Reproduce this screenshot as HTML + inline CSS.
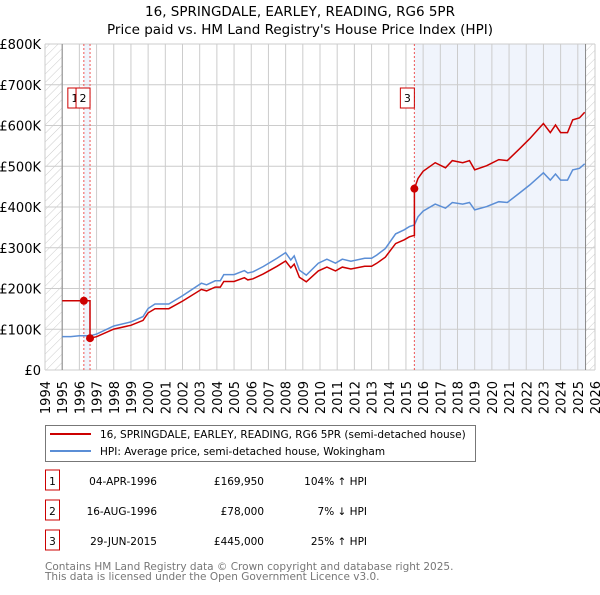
<!DOCTYPE html>
<html><head><meta charset="utf-8"><style>
body{margin:0;background:#fff;font-family:"Liberation Sans","DejaVu Sans",sans-serif;}
svg text{font-family:"DejaVu Sans","Liberation Sans",sans-serif;}
</style></head><body>
<svg id="c" width="600" height="590" xmlns="http://www.w3.org/2000/svg">
<defs><pattern id="hatch" width="6" height="6" patternUnits="userSpaceOnUse" patternTransform="rotate(45)"><line x1="0" y1="0" x2="0" y2="6" stroke="#ccc" stroke-width="1"/></pattern></defs>
<text x="300" y="16" text-anchor="middle" font-size="13.5" fill="#000">16, SPRINGDALE, EARLEY, READING, RG6 5PR</text>
<text x="300" y="34" text-anchor="middle" font-size="13.5" fill="#000">Price paid vs. HM Land Registry's House Price Index (HPI)</text>
<g id="plot"></g>
<g>
<rect x="45.5" y="425.5" width="430" height="36" fill="#fff" stroke="#777"/>
<line x1="50" y1="434" x2="91" y2="434" stroke="#cc0000" stroke-width="2"/>
<text x="100" y="438" font-size="10.5">16, SPRINGDALE, EARLEY, READING, RG6 5PR (semi-detached house)</text>
<line x1="50" y1="451" x2="91" y2="451" stroke="#5b8ed6" stroke-width="2"/>
<text x="100" y="455" font-size="10.5">HPI: Average price, semi-detached house, Wokingham</text>
</g>
<g id="table"></g>
<text x="45" y="570" font-size="10.5" fill="#777">Contains HM Land Registry data © Crown copyright and database right 2025.</text>
<text x="45" y="580" font-size="10.5" fill="#777">This data is licensed under the Open Government Licence v3.0.</text>
</svg>
<script>
const hpiYears=[1995,1995.5,1996,1996.62,1997,1998,1999,1999.7,2000,2000.4,2001.2,2002,2003.1,2003.4,2003.9,2004.2,2004.4,2005,2005.6,2005.8,2006.1,2006.7,2007.5,2008,2008.3,2008.5,2008.8,2009.2,2009.9,2010.4,2010.9,2011.3,2011.8,2012.6,2013,2013.3,2013.8,2014.4,2014.9,2015.2,2015.49,2015.7,2016,2016.7,2017.3,2017.7,2018.3,2018.7,2019,2019.7,2020.4,2020.9,2021.6,2022.2,2023,2023.4,2023.7,2024,2024.4,2024.7,2025.1,2025.4];
const hpiValues=[82,82,84,84,88,108,118,131,151,162,162,182,213,209,219,219,234,234,244,238,241,254,274,288,270,280,245,233,262,272,262,272,267,274,274,282,298,334,344,352,356,376,390,407,397,411,407,411,393,401,413,411,434,454,484,466,481,466,466,491,495,506];
const saleIds=["1","2","3"];
const saleYears=[1996.26,1996.62,2015.49];
const salePrices=[169950,78000,445000];
const saleDates=["04-APR-1996","16-AUG-1996","29-JUN-2015"];
const salePriceLabels=["£169,950","£78,000","£445,000"];
const saleHpiLabels=["104% ↑ HPI","7% ↓ HPI","25% ↑ HPI"];
const yTicks=[0,100,200,300,400,500,600,700,800];
const yTickLabels=["£0","£100K","£200K","£300K","£400K","£500K","£600K","£700K","£800K"];
const xTicks=[1994,1995,1996,1997,1998,1999,2000,2001,2002,2003,2004,2005,2006,2007,2008,2009,2010,2011,2012,2013,2014,2015,2016,2017,2018,2019,2020,2021,2022,2023,2024,2025,2026];

const NS="http://www.w3.org/2000/svg";
const L=45,R=595,T=44,B=370,X0=1994,X1=2026,YMAX=800;
const xs=y=>L+(y-X0)/(X1-X0)*(R-L);
const ys=v=>B-v/YMAX*(B-T);
const plot=document.getElementById('plot');
function mk(tag,at,parent){const e=document.createElementNS(NS,tag);for(const k in at)e.setAttribute(k,at[k]);(parent||plot).appendChild(e);return e;}
function hpiAt(y){for(let i=1;i<hpiYears.length;i++){if(y<=hpiYears[i]){const t=(y-hpiYears[i-1])/(hpiYears[i]-hpiYears[i-1]);return hpiValues[i-1]+t*(hpiValues[i]-hpiValues[i-1]);}}return hpiValues[hpiValues.length-1];}

let e=mk('rect',{x:xs(saleYears[2]),y:T,width:xs(2025.45)-xs(saleYears[2]),height:B-T,fill:'#f0f4fc'});


e=mk('rect',{x:xs(saleYears[0]),y:T,width:xs(saleYears[1])-xs(saleYears[0]),height:B-T,fill:'#f0f4fc'});


e=mk('rect',{x:L,y:T,width:xs(1995)-L,height:B-T,fill:'url(#hatch)'});


e=mk('rect',{x:xs(2025.45),y:T,width:R-xs(2025.45),height:B-T,fill:'url(#hatch)'});


yTicks.forEach((v,i)=>{
  let g=mk('line',{x1:L,x2:R,y1:ys(v),y2:ys(v),stroke:'#ccc','stroke-width':1});
  
  
  let t=mk('text',{x:L-4,y:ys(v)+5,'text-anchor':'end','font-size':13});
  t.textContent=yTickLabels[i];
  
  
});
xTicks.forEach(y=>{
  let g=mk('line',{x1:xs(y),x2:xs(y),y1:T,y2:B,stroke:'#ccc','stroke-width':1});
  
  
  let t=mk('text',{x:0,y:0,'text-anchor':'end','font-size':13,transform:`translate(${xs(y)+5},${B+11}) rotate(-90)`});
  t.textContent=y;
  
  
});
e=mk('line',{x1:xs(1995),x2:xs(1995),y1:T,y2:B,stroke:'#888'});


e=mk('line',{x1:xs(2025.45),x2:xs(2025.45),y1:T,y2:B,stroke:'#888'});


saleYears.forEach(y=>{
  let l=mk('line',{x1:xs(y),x2:xs(y),y1:T,y2:B,stroke:'#e55','stroke-width':1,'stroke-dasharray':'2,2'});
  
  
});
let hp=hpiYears.map((y,i)=>xs(y).toFixed(1)+','+ys(hpiValues[i]).toFixed(1)).join(' ');
e=mk('polyline',{points:hp,fill:'none',stroke:'#5b8ed6','stroke-width':1.5});


let pts=[[1995,salePrices[0]/1000],[saleYears[1],salePrices[0]/1000]];
const f1=salePrices[1]/1000/hpiAt(saleYears[1]);
const f2=salePrices[2]/1000/hpiAt(saleYears[2]);
pts.push([saleYears[1],salePrices[1]/1000]);
hpiYears.forEach((y,i)=>{if(y>saleYears[1]&&y<saleYears[2])pts.push([y,hpiValues[i]*f1]);});
pts.push([saleYears[2],hpiAt(saleYears[2])*f1]);
pts.push([saleYears[2],salePrices[2]/1000]);
hpiYears.forEach((y,i)=>{if(y>saleYears[2])pts.push([y,hpiValues[i]*f2]);});
e=mk('polyline',{points:pts.map(p=>xs(p[0]).toFixed(1)+','+ys(p[1]).toFixed(1)).join(' '),fill:'none',stroke:'#cc0000','stroke-width':1.5});


saleYears.forEach((y,i)=>{
  let c=mk('circle',{cx:xs(y),cy:ys(salePrices[i]/1000),r:4,fill:'#cc0000'});
  
  
});
const boxX=[xs(saleYears[0])-9,xs(saleYears[1])-7,xs(saleYears[2])-7];
saleIds.forEach((id,i)=>{
  let g=mk('g',{});
  
  
  mk('rect',{x:boxX[i]-7,y:88,width:14,height:20,fill:'#fff',stroke:'#cc0000'},g);
  let t=mk('text',{x:boxX[i],y:102,'text-anchor':'middle','font-size':11},g);t.textContent=id;
});
const tb=document.getElementById('table');
saleIds.forEach((id,i)=>{
  const cy=483+i*30;
  let r=mk('g',{},tb);
  
  
  mk('rect',{x:45.5,y:cy-13,width:14,height:20,fill:'#fff',stroke:'#cc0000'},r);
  let t=mk('text',{x:52.5,y:cy+2,'text-anchor':'middle','font-size':10.5},r);t.textContent=id;
  t=mk('text',{x:157,y:cy+2,'text-anchor':'end','font-size':10.5},r);t.textContent=saleDates[i];
  t=mk('text',{x:264,y:cy+2,'text-anchor':'end','font-size':10.5},r);t.textContent=salePriceLabels[i];
  t=mk('text',{x:367,y:cy+2,'text-anchor':'end','font-size':10.5},r);t.textContent=saleHpiLabels[i];
});
</script>
</body></html>
